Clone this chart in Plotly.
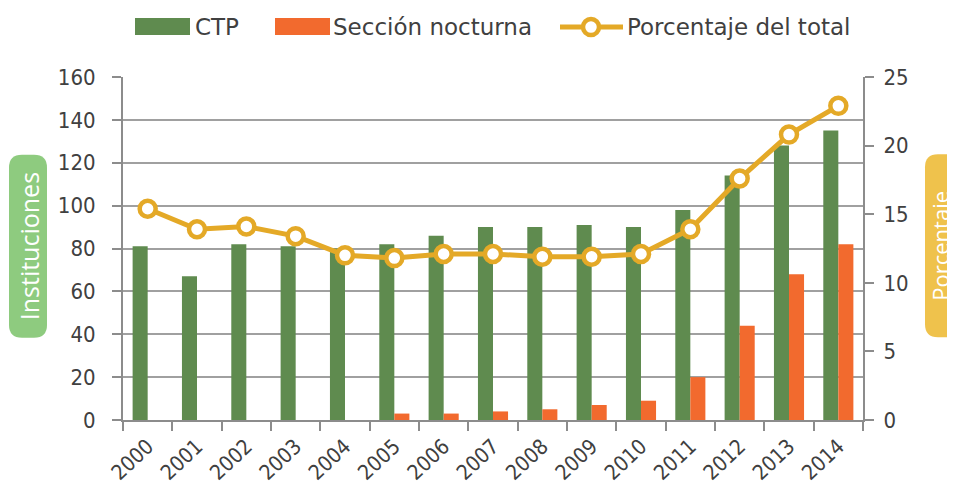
import plotly.graph_objects as go

# ---- data ----
years = ["2000", "2001", "2002", "2003", "2004", "2005", "2006", "2007",
         "2008", "2009", "2010", "2011", "2012", "2013", "2014"]
ctp = [81, 67, 82, 81, 80, 82, 86, 90, 90, 91, 90, 98, 114, 128, 135]
nocturna = [0, 0, 0, 0, 0, 3, 3, 4, 5, 7, 9, 20, 44, 68, 82]
porcentaje = [15.4, 13.9, 14.1, 13.4, 12.0, 11.8, 12.1, 12.1, 11.9, 11.9,
              12.1, 13.9, 17.6, 20.8, 22.9]
y1_ticks = [0, 20, 40, 60, 80, 100, 120, 140, 160]
y2_ticks = [0, 5, 10, 15, 20, 25]

# ---- style / geometry ----
OFF = 8                      # page body margin
W, H = 955 - OFF, 489 - OFF
PX0, PX1, PY0, PY1 = 123, 863, 77, 420.5   # plot area in window pixels
L = PX0 - OFF
R = W - (PX1 - OFF)
T = PY0 - OFF
B = H - (PY1 - OFF)
PW, PH = PX1 - PX0, PY1 - PY0
GREEN = "#5F8B4F"
ORANGE = "#F26A2E"
GOLD = "#E4A927"
TXT = "#404040"
AXIS = "#8C8C8C"
GRID = "#A0A0A0"
FONT = "DejaVu Sans Condensed, DejaVu Sans, sans-serif"
LFONT = "DejaVu Sans, sans-serif"


def px(x):
    return (x - PX0) / PW


def py(y):
    return (PY1 - y) / PH


fig = go.Figure()
fig.add_trace(go.Bar(x=years, y=ctp, name="CTP", marker_color=GREEN,
                     marker_line_width=0))
fig.add_trace(go.Bar(x=years, y=nocturna, name="Sección nocturna",
                     marker_color=ORANGE, marker_line_width=0))
fig.add_trace(go.Scatter(x=years, y=porcentaje, name="Porcentaje del total",
                         yaxis="y2", mode="lines+markers",
                         line=dict(color=GOLD, width=5),
                         marker=dict(size=16, color="white",
                                     line=dict(color=GOLD, width=4.5))))

shapes = []
annotations = []

# legend (manual)
shapes.append(dict(type="rect", xref="paper", yref="paper",
                   x0=px(135), x1=px(190), y0=py(35), y1=py(18),
                   fillcolor=GREEN, line_width=0))
annotations.append(dict(text="CTP", xref="paper", yref="paper", x=px(193),
                        y=py(27), xanchor="left", yanchor="middle",
                        showarrow=False, font=dict(size=23, color=TXT, family=LFONT)))
shapes.append(dict(type="rect", xref="paper", yref="paper",
                   x0=px(275), x1=px(330), y0=py(35), y1=py(18),
                   fillcolor=ORANGE, line_width=0))
annotations.append(dict(text="Sección nocturna", xref="paper", yref="paper",
                        x=px(331), y=py(27), xanchor="left", yanchor="middle",
                        showarrow=False, font=dict(size=23, color=TXT, family=LFONT)))
shapes.append(dict(type="line", xref="paper", yref="paper",
                   x0=px(560), x1=px(623), y0=py(27), y1=py(27),
                   line=dict(color=GOLD, width=5)))
shapes.append(dict(type="circle", xref="paper", yref="paper",
                   xsizemode="pixel", ysizemode="pixel",
                   xanchor=px(591), yanchor=py(27),
                   x0=-8, x1=8, y0=-8, y1=8,
                   fillcolor="white", line=dict(color=GOLD, width=4.5)))
annotations.append(dict(text="Porcentaje del total", xref="paper", yref="paper",
                        x=px(625), y=py(27), xanchor="left", yanchor="middle",
                        showarrow=False, font=dict(size=23, color=TXT, family=LFONT)))


def rounded_box(cx, cy, w, h, r, color):
    x0, x1 = -w / 2, w / 2
    y0, y1 = -h / 2, h / 2
    path = (f"M {x0 + r},{y0} L {x1 - r},{y0} Q {x1},{y0} {x1},{y0 + r} "
            f"L {x1},{y1 - r} Q {x1},{y1} {x1 - r},{y1} "
            f"L {x0 + r},{y1} Q {x0},{y1} {x0},{y1 - r} "
            f"L {x0},{y0 + r} Q {x0},{y0} {x0 + r},{y0} Z")
    return dict(type="path", xref="paper", yref="paper",
                xsizemode="pixel", ysizemode="pixel",
                xanchor=px(cx), yanchor=py(cy), path=path,
                fillcolor=color, line_width=0, layer="above")


shapes.append(rounded_box(28, 246.5, 38, 183, 13, "#8ECB7F"))
annotations.append(dict(text="Instituciones", xref="paper", yref="paper",
                        x=px(29), y=py(246.5), textangle=-90, showarrow=False,
                        xanchor="center", yanchor="middle",
                        font=dict(size=25, color="white", family="Open Sans")))
shapes.append(rounded_box(944, 246, 38, 183, 13, "#EFC24C"))
annotations.append(dict(text="Porcentaje", xref="paper", yref="paper",
                        x=px(940), y=py(246), textangle=-90, showarrow=False,
                        xanchor="center", yanchor="middle",
                        font=dict(size=22, color="white", family="Open Sans")))

fig.update_layout(
    width=W, height=H,
    margin=dict(l=L, r=R, t=T, b=B, autoexpand=False),
    paper_bgcolor="white", plot_bgcolor="white",
    barmode="group", bargap=0.39, bargroupgap=0,
    showlegend=False,
    font=dict(family=FONT, size=22, color=TXT),
    xaxis=dict(type="category", range=[-0.5, len(years) - 0.5],
               tickson="boundaries", ticks="outside",
               ticklen=9, tickwidth=2, tickcolor=AXIS, showline=True,
               linecolor=AXIS, linewidth=2, showgrid=False, tickangle=-43,
               ticklabelstandoff=4,
               tickfont=dict(size=21, color=TXT)),
    yaxis=dict(range=[0, 160], tickvals=y1_ticks, ticks="outside", ticklen=9,
               tickwidth=2, tickcolor=AXIS, showline=True, linecolor=AXIS,
               linewidth=2, showgrid=True, gridcolor=GRID, gridwidth=2,
               zeroline=False, ticklabelstandoff=12,
               tickfont=dict(size=22, color=TXT)),
    yaxis2=dict(range=[0, 25], tickvals=y2_ticks, overlaying="y", side="right",
                ticks="outside", ticklen=9, tickwidth=2, tickcolor=AXIS,
                showline=True, linecolor=AXIS, linewidth=2, showgrid=False,
                zeroline=False, ticklabelstandoff=5,
                tickfont=dict(size=22, color=TXT)),
    shapes=shapes, annotations=annotations,
)

fig.write_html("out.html")
